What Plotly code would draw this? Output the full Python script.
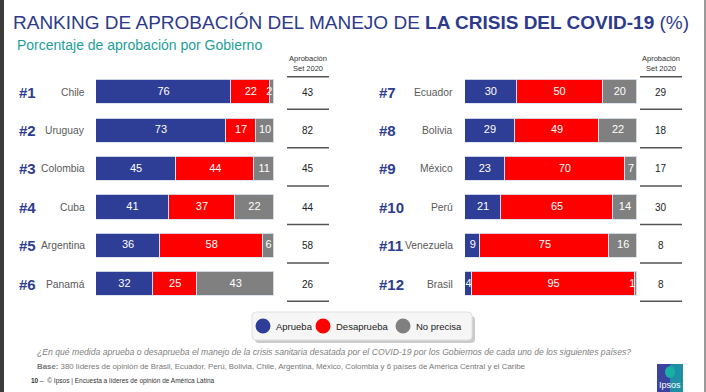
import plotly.graph_objects as go

W, H = 706, 392

# ---- data ----
countries_left = ["Chile", "Uruguay", "Colombia", "Cuba", "Argentina", "Panamá"]
ranks_left = ["#1", "#2", "#3", "#4", "#5", "#6"]
aprueba_left = [76, 73, 45, 41, 36, 32]
desaprueba_left = [22, 17, 44, 37, 58, 25]
noprecisa_left = [2, 10, 11, 22, 6, 43]
set2020_left = [43, 82, 45, 44, 58, 26]

countries_right = ["Ecuador", "Bolivia", "México", "Perú", "Venezuela", "Brasil"]
ranks_right = ["#7", "#8", "#9", "#10", "#11", "#12"]
aprueba_right = [30, 29, 23, 21, 9, 4]
desaprueba_right = [50, 49, 70, 65, 75, 95]
noprecisa_right = [20, 22, 7, 14, 16, 1]
set2020_right = [29, 18, 17, 30, 8, 8]

series_names = ["Aprueba", "Desaprueba", "No precisa"]
series_colors = ["#2e3d96", "#ff0000", "#808080"]

title_plain = "RANKING DE APROBACIÓN DEL MANEJO DE "
title_bold = "LA CRISIS DEL COVID-19"
title_end = " (%)"
subtitle = "Porcentaje de aprobación por Gobierno"
table_header = "Aprobación<br>Set 2020"
question = ("¿En qué medida aprueba o desaprueba el manejo de la crisis sanitaria desatada por el "
            "COVID-19 por los Gobiernos de cada uno de los siguientes países?")
base_text = ("<b>Base:</b> 380 líderes de opinión de Brasil, Ecuador, Perú, Bolivia, Chile, Argentina, "
             "México, Colombia y 6 países de América Central y el Caribe")
footer = "<b>10</b> –  © Ipsos | Encuesta a líderes de opinión de América Latina"


def px(x):
    return x / W


def py(y):
    return 1 - y / H


FONT = "Liberation Sans, Arial, sans-serif"
fig = go.Figure()

panels = [
    dict(xa="x", ya="y", vals=[aprueba_left, desaprueba_left, noprecisa_left],
         countries=countries_left, ranks=ranks_left, table=set2020_left,
         rank_x=17, country_x=87, table_x=308),
    dict(xa="x2", ya="y2", vals=[aprueba_right, desaprueba_right, noprecisa_right],
         countries=countries_right, ranks=ranks_right, table=set2020_right,
         rank_x=377, country_x=455, table_x=661),
]

annotations = []
shapes = []

for p in panels:
    idx = list(range(len(p["countries"])))
    lefts = [0] * len(idx)
    for name, color, vals in zip(series_names, series_colors, p["vals"]):
        fig.add_trace(go.Bar(
            x=vals, y=idx, orientation="h", name=name,
            marker=dict(color=color, line=dict(color="rgba(220,225,240,0.9)", width=1)),
            width=0.63, showlegend=False, hoverinfo="skip",
            xaxis=p["xa"], yaxis=p["ya"],
        ))
        # value labels centred in each segment, kept inside the bar's ends
        centers = [min(max(l + v / 2, 1.3), 97.3) for l, v in zip(lefts, vals)]
        fig.add_trace(go.Scatter(
            x=centers, y=idx, mode="text", text=[str(v) for v in vals],
            textposition="middle center", cliponaxis=False,
            textfont=dict(color="white", size=11, family=FONT),
            showlegend=False, hoverinfo="skip", xaxis=p["xa"], yaxis=p["ya"],
        ))
        lefts = [l + v for l, v in zip(lefts, vals)]
    yref = p["ya"]
    for i in idx:
        annotations.append(dict(x=px(p["rank_x"]), xref="paper", y=i, yref=yref,
                                text=f"<b>{p['ranks'][i]}</b>", showarrow=False,
                                xanchor="left", yanchor="middle",
                                font=dict(size=15, color="#2e3d8f", family=FONT)))
        annotations.append(dict(x=px(p["country_x"]), xref="paper", y=i, yref=yref,
                                text=p["countries"][i], showarrow=False,
                                xanchor="right", yanchor="middle",
                                font=dict(size=10.3, color="#5a5a5a", family=FONT)))
        annotations.append(dict(x=px(p["table_x"]), xref="paper", y=i, yref=yref,
                                text=str(p["table"][i]), showarrow=False,
                                xanchor="center", yanchor="middle",
                                font=dict(size=10, color="#222222", family=FONT)))
        shapes.append(dict(type="line", xref="paper", yref=yref,
                           x0=px(p["table_x"] - 21), x1=px(p["table_x"] + 21),
                           y0=i + 0.45, y1=i + 0.45,
                           line=dict(color="#555555", width=1.5)))
    shapes.append(dict(type="line", xref="paper", yref=yref,
                       x0=px(p["table_x"] - 21), x1=px(p["table_x"] + 21),
                       y0=-0.4, y1=-0.4, line=dict(color="#555555", width=1.5)))
    annotations.append(dict(x=px(p["table_x"]), xref="paper", y=py(64), yref="paper",
                            text=table_header, showarrow=False, xanchor="center",
                            yanchor="middle", align="center",
                            font=dict(size=7.5, color="#333333", family=FONT)))

# title, subtitle, notes
annotations += [
    dict(x=px(11), y=py(22), xref="paper", yref="paper", xanchor="left", yanchor="middle",
         showarrow=False,
         text=f"{title_plain}<b>{title_bold}</b>{title_end}",
         font=dict(size=19, color="#2e3a8c", family=FONT)),
    dict(x=px(15), y=py(45), xref="paper", yref="paper", xanchor="left", yanchor="middle",
         showarrow=False, text=subtitle,
         font=dict(size=14, color="#1c9f98", family=FONT)),
    dict(x=px(35), y=py(352), xref="paper", yref="paper", xanchor="left", yanchor="middle",
         showarrow=False, text=f"<i>{question}</i>",
         font=dict(size=8.65, color="#808080", family=FONT)),
    dict(x=px(35), y=py(366), xref="paper", yref="paper", xanchor="left", yanchor="middle",
         showarrow=False, text=base_text,
         font=dict(size=7.85, color="#777777", family=FONT)),
    dict(x=px(29), y=py(381), xref="paper", yref="paper", xanchor="left", yanchor="middle",
         showarrow=False, text=footer,
         font=dict(size=6.5, color="#333333", family=FONT)),
    dict(x=px(670), y=py(385), xref="paper", yref="paper", xanchor="center", yanchor="middle",
         showarrow=False, text="Ipsos",
         font=dict(size=9, color="white", family=FONT)),
]


def rounded_rect(x0, y0, x1, y1, rx, ry):
    return (f"M {x0 + rx} {y0} L {x1 - rx} {y0} Q {x1} {y0} {x1} {y0 - ry} "
            f"L {x1} {y1 + ry} Q {x1} {y1} {x1 - rx} {y1} L {x0 + rx} {y1} "
            f"Q {x0} {y1} {x0} {y1 + ry} L {x0} {y0 - ry} Q {x0} {y0} {x0 + rx} {y0} Z")


rx, ry = px(4), 4 / H
shapes += [
    dict(type="path", xref="paper", yref="paper",
         path=rounded_rect(px(255), py(316), px(475), py(343), rx, ry),
         fillcolor="rgba(140,140,140,0.45)", line=dict(width=0), layer="below"),
    dict(type="path", xref="paper", yref="paper",
         path=rounded_rect(px(252), py(312), px(472), py(340), rx, ry),
         fillcolor="#f6f6f6", line=dict(color="#e0e0e0", width=1), layer="below"),
    # page edges
    dict(type="rect", xref="paper", yref="paper", x0=0, x1=px(4), y0=0, y1=1,
         fillcolor="#3c3c3c", line=dict(width=0)),
    dict(type="rect", xref="paper", yref="paper", x0=px(704), x1=1, y0=0, y1=1,
         fillcolor="#9a9a9a", line=dict(width=0)),
    # Ipsos logo
    dict(type="rect", xref="paper", yref="paper", x0=px(657), x1=px(670), y0=0, y1=py(364),
         fillcolor="#3a43a0", line=dict(width=0)),
    dict(type="rect", xref="paper", yref="paper", x0=px(670), x1=px(683), y0=0, y1=py(364),
         fillcolor="#1f8fa6", line=dict(width=0)),
    dict(type="circle", xref="paper", yref="paper", x0=px(665), x1=px(675), y0=py(378), y1=py(366),
         fillcolor="#19b0a4", line=dict(width=0)),
]

# legend (manual key, built from the series lists)
legend_symbol_x = [263, 323, 403]
for name, color, lx in zip(series_names, series_colors, legend_symbol_x):
    shapes.append(dict(type="circle", xref="paper", yref="paper",
                       x0=px(lx - 7.5), x1=px(lx + 7.5), y0=py(333.5), y1=py(318.5),
                       fillcolor=color, line=dict(width=0)))
    annotations.append(dict(x=px(lx + 11), y=py(326), xref="paper", yref="paper",
                            xanchor="left", yanchor="middle", showarrow=False, text=name,
                            font=dict(size=9.5, color="#222222", family=FONT)))

ydom = [py(303.2), py(72.8)]
fig.update_layout(
    width=W, height=H, autosize=False,
    margin=dict(l=0, r=0, t=0, b=0),
    paper_bgcolor="white", plot_bgcolor="white",
    barmode="stack", bargap=0,
    xaxis=dict(domain=[px(96), px(274)], range=[0, 100], visible=False, fixedrange=True),
    yaxis=dict(domain=ydom, range=[5.5, -0.5], visible=False, fixedrange=True),
    xaxis2=dict(domain=[px(465), px(637)], range=[0, 100], visible=False, anchor="y2",
                fixedrange=True),
    yaxis2=dict(domain=ydom, range=[5.5, -0.5], visible=False, anchor="x2", fixedrange=True),
    showlegend=False,
    annotations=annotations, shapes=shapes,
    font=dict(family=FONT),
)

fig.write_html("out.html", config={"displayModeBar": False},
               post_script="document.body.style.margin='0';document.body.style.overflow='hidden';")
